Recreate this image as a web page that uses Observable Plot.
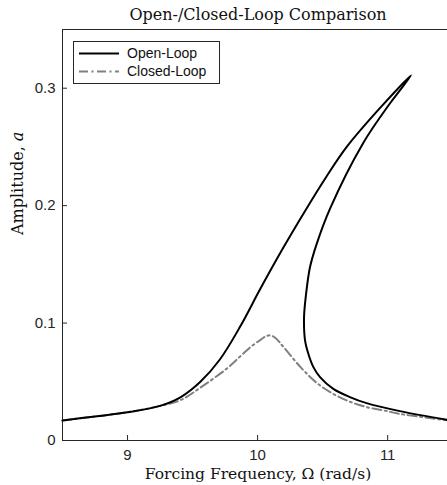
<!DOCTYPE html>
<html>
<head>
<meta charset="utf-8">
<script src="https://cdn.jsdelivr.net/npm/d3@7"></script>
<script src="https://cdn.jsdelivr.net/npm/@observablehq/plot@0.6"></script>
<style>
  body { margin: 0; background: #fff; }
  #chart { position: relative; width: 447px; height: 485px; overflow: hidden; }
  #legend { position: absolute; left: 73px; top: 41px; }
</style>
</head>
<body>
<div id="chart"></div>
<script>
// Frequency response: amplitude a versus forcing frequency Ω (rad/s).
// Open-loop response traced along the whole branch: lower branch up to the
// jump-up tip, back along the unstable branch, then out along the lower right branch.
const openOmega = [8.5, 8.75, 9.0, 9.25, 9.41, 9.56, 9.71, 9.866, 10.02, 10.186, 10.365, 10.525, 10.685, 10.94, 11.18,
                   11.017, 10.81, 10.557, 10.455, 10.403, 10.373, 10.357, 10.365, 10.39, 10.429, 10.48, 10.582,
                   10.71, 10.838, 11.094, 11.46];
const openAmp   = [0.017, 0.0205, 0.024, 0.0295, 0.037, 0.050, 0.069, 0.097, 0.129, 0.162, 0.1955, 0.224, 0.250, 0.283, 0.311,
                   0.287, 0.253, 0.1975, 0.1677, 0.1477, 0.125, 0.105, 0.085, 0.0739, 0.0625, 0.054, 0.044,
                   0.037, 0.0318, 0.025, 0.0175];

// Closed-loop response.
const closedOmega = [8.5, 8.75, 9.0, 9.25, 9.41, 9.56, 9.76, 9.87, 9.95, 10.02, 10.06, 10.1, 10.14, 10.2,
                     10.33, 10.455, 10.58, 10.71, 10.84, 10.97, 11.09, 11.46];
const closedAmp   = [0.017, 0.0205, 0.024, 0.0295, 0.0345, 0.045, 0.061, 0.072, 0.080, 0.0855, 0.0885, 0.0895, 0.087, 0.0795,
                     0.0625, 0.049, 0.0398, 0.033, 0.0284, 0.0256, 0.0227, 0.0172];

const seriesNames = ["Open-Loop", "Closed-Loop"];
const xTicks = [9, 10, 11];
const yTicks = [0, 0.1, 0.2, 0.3];
const xDomain = [8.5, 11.46];
const yDomain = [0, 0.35];

const titleText = "Open-/Closed-Loop Comparison";
const xLabel = "Forcing Frequency, Ω (rad/s)";
const yLabel = "Amplitude, a";

const openLoop = openOmega.map((w, i) => ({w, a: openAmp[i]}));
const closedLoop = closedOmega.map((w, i) => ({w, a: closedAmp[i]}));

const W = 447, H = 485, mL = 62, mR = 0, mT = 29, mB = 45;
const axisColor = "#262626";
const serif = "DejaVu Serif";
const closedDash = "9,3.5,2,3.5";

const chart = Plot.plot({
  width: W, height: H,
  marginLeft: mL, marginRight: mR, marginTop: mT, marginBottom: mB,
  style: {fontFamily: "Liberation Sans", fontSize: "15px", color: axisColor, background: "#fff"},
  x: {domain: xDomain},
  y: {domain: yDomain},
  marks: [
    // box: left, bottom, top
    Plot.ruleX([xDomain[0]], {stroke: axisColor, strokeWidth: 1}),
    Plot.ruleY([yDomain[0]], {stroke: axisColor, strokeWidth: 1}),
    Plot.ruleY([yDomain[1]], {stroke: axisColor, strokeWidth: 1}),
    // inward ticks
    Plot.tickX(xTicks, {x: d => d, insetTop: H - mT - mB - 5, stroke: axisColor}),
    Plot.tickY(yTicks, {y: d => d, insetRight: W - mL - mR - 5, stroke: axisColor}),
    Plot.axisX({ticks: xTicks, tickSize: 0, tickPadding: 9, label: null, tickFormat: d => String(d)}),
    Plot.axisY({ticks: yTicks, tickSize: 0, tickPadding: 7, label: null,
                tickFormat: d => d === 0 ? "0" : d.toFixed(1)}),
    // curves
    Plot.line(closedLoop, {x: "w", y: "a", curve: "catmull-rom", stroke: "#808080",
                           strokeWidth: 2, strokeDasharray: closedDash}),
    Plot.line(openLoop, {x: "w", y: "a", curve: "catmull-rom", stroke: "#000", strokeWidth: 2}),
    // title and axis labels
    Plot.text([titleText], {frameAnchor: "top", dx: 3, dy: -15, lineAnchor: "middle",
                            fontFamily: serif, fontSize: 16, fill: "#111"}),
    Plot.text([xLabel], {frameAnchor: "bottom", dx: 3, dy: 34, lineAnchor: "middle",
                         fontFamily: serif, fontSize: 15.5, fill: "#111"}),
    Plot.text([yLabel], {frameAnchor: "left", dx: -45, rotate: -90, lineAnchor: "middle",
                         fontFamily: serif, fontSize: 16, fill: "#111"})
  ]
});

// italic symbol for the amplitude variable
chart.querySelectorAll("text").forEach(t => {
  if (t.textContent === yLabel) {
    t.textContent = "";
    const ns = "http://www.w3.org/2000/svg";
    const a = document.createElementNS(ns, "tspan");
    a.textContent = "Amplitude, ";
    const b = document.createElementNS(ns, "tspan");
    b.textContent = "a";
    b.setAttribute("font-style", "italic");
    t.appendChild(a); t.appendChild(b);
  }
});

const root = document.getElementById("chart");
root.appendChild(chart);

// legend box
const lg = d3.create("svg").attr("id", "legend").attr("width", 147).attr("height", 43);
lg.append("rect").attr("x", 0.5).attr("y", 0.5).attr("width", 146).attr("height", 42)
  .attr("fill", "#fff").attr("stroke", axisColor).attr("stroke-width", 1);
const legendStyles = [
  {stroke: "#000", dash: null},
  {stroke: "#808080", dash: closedDash}
];
seriesNames.forEach((name, i) => {
  const y = 12.5 + i * 18;
  lg.append("line").attr("x1", 6).attr("x2", 46).attr("y1", y).attr("y2", y)
    .attr("stroke", legendStyles[i].stroke).attr("stroke-width", 2)
    .attr("stroke-dasharray", legendStyles[i].dash);
  lg.append("text").attr("x", 54).attr("y", y).attr("dy", "0.35em")
    .attr("font-family", "Liberation Sans").attr("font-size", 14).attr("fill", "#111")
    .text(name);
});
root.appendChild(lg.node());
</script>
</body>
</html>
